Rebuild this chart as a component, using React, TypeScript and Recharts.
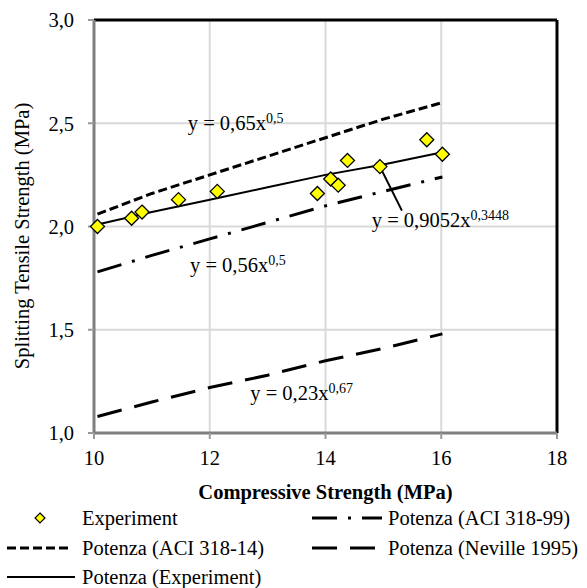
import React from 'react';
import {
  ScatterChart,
  Scatter,
  XAxis,
  YAxis,
  CartesianGrid,
  ReferenceLine,
  ReferenceDot,
} from 'recharts';

const FONT = "'Liberation Serif', 'Times New Roman', serif";

// Experiment points (compressive vs splitting tensile strength, MPa)
const expX = [10.06, 10.65, 10.83, 11.46, 12.13, 13.86, 14.09, 14.22, 14.38, 14.94, 15.75, 16.02];
const expY = [2.0, 2.04, 2.07, 2.13, 2.17, 2.16, 2.23, 2.2, 2.32, 2.29, 2.42, 2.35];

// Trend curves
const trendX = [10.06, 11, 12, 13, 14, 15, 16.02];
const aci14Y = [2.06, 2.16, 2.25, 2.34, 2.43, 2.52, 2.6];
const aci99Y = [1.78, 1.86, 1.94, 2.02, 2.1, 2.17, 2.24];
const nevilleY = [1.08, 1.15, 1.22, 1.28, 1.35, 1.41, 1.48];
const expFitY = [2.01, 2.07, 2.13, 2.19, 2.25, 2.3, 2.36];

const xTicks = [10, 12, 14, 16, 18];
const yTicks = [1, 1.5, 2, 2.5, 3];

const equationLabels = [
  { x: 11.62, y: 2.5, base: 'y = 0,65x', sup: '0,5' },
  { x: 11.66, y: 1.814, base: 'y = 0,56x', sup: '0,5' },
  { x: 12.7, y: 1.194, base: 'y = 0,23x', sup: '0,67' },
  { x: 14.8, y: 2.031, base: 'y = 0,9052x', sup: '0,3448' },
];

const DASH_14 = '9 4';
const DASH_99 = '25 11 3 11';
const DASH_NEV = '25 13';

const txtStyle = { fontFamily: FONT };

const toPoints = (xs: number[], ys: number[]) => xs.map((x, i) => ({ x, y: ys[i] }));

const Diamond = (props: any) => {
  const { cx, cy } = props;
  const r = 7;
  return (
    <polygon
      points={`${cx},${cy - r} ${cx + r},${cy} ${cx},${cy + r} ${cx - r},${cy}`}
      fill="#ffff00"
      stroke="#000"
      strokeWidth={1.3}
    />
  );
};

const NoShape = () => <g />;

const EquationText = ({ viewBox, base, sup }: any) => (
  <text x={viewBox.x} y={viewBox.y + 7} style={txtStyle} fontSize={20.5} fill="#000">
    <tspan>{base}</tspan>
    <tspan dy={-7} fontSize={14}>{sup}</tspan>
  </text>
);

const fmt = (v: number) => v.toFixed(1).replace('.', ',');

function LegendOverlay() {
  const rows = [518, 548, 577];
  const txt = { style: txtStyle, fontSize: 20.5, fill: '#000' };
  return (
    <svg width={587} height={588} style={{ position: 'absolute', left: 0, top: 0, pointerEvents: 'none' }}>
      <polygon points={`40,${rows[0] - 5} 45,${rows[0]} 40,${rows[0] + 5} 35,${rows[0]}`} fill="#ffff00" stroke="#000" strokeWidth={1.2} />
      <text x={82} y={rows[0] + 7} {...txt}>Experiment</text>
      <line x1={7} x2={68} y1={rows[1]} y2={rows[1]} stroke="#000" strokeWidth={3} strokeDasharray={DASH_14} />
      <text x={82} y={rows[1] + 7} {...txt}>Potenza (ACI 318-14)</text>
      <line x1={7} x2={75} y1={rows[2]} y2={rows[2]} stroke="#000" strokeWidth={2} />
      <text x={82} y={rows[2] + 7} {...txt}>Potenza (Experiment)</text>
      <line x1={312} x2={382} y1={rows[0]} y2={rows[0]} stroke="#000" strokeWidth={3} strokeDasharray={DASH_99} />
      <text x={388} y={rows[0] + 7} {...txt}>Potenza (ACI 318-99)</text>
      <line x1={312} x2={375} y1={rows[1]} y2={rows[1]} stroke="#000" strokeWidth={3} strokeDasharray={DASH_NEV} />
      <text x={388} y={rows[1] + 7} {...txt}>Potenza (Neville 1995)</text>
    </svg>
  );
}

export default function App() {
  const tick = { fill: '#000', fontSize: 20.5, style: txtStyle };
  return (
    <div style={{ position: 'absolute', left: 0, top: 0, width: 587, height: 588, background: '#fff', fontFamily: FONT }}>
      <ScatterChart width={587} height={588} margin={{ top: 20, right: 30, bottom: 115, left: 34 }} style={txtStyle}>
        <CartesianGrid stroke="#d9d9d9" strokeWidth={2} />
        <XAxis
          type="number"
          dataKey="x"
          domain={[10, 18]}
          ticks={xTicks}
          height={40}
          tick={tick}
          tickSize={6}
          tickMargin={11}
          tickLine={{ stroke: '#999', strokeWidth: 2 }}
          axisLine={{ stroke: '#7f7f7f', strokeWidth: 3 }}
          label={({ viewBox }: any) => (
            <text
              x={viewBox.x + viewBox.width / 2}
              y={viewBox.y + 66}
              textAnchor="middle"
              style={txtStyle}
              fontSize={20.5}
              fontWeight="bold"
              fill="#000"
            >
              Compressive Strength (MPa)
            </text>
          )}
        />
        <YAxis
          type="number"
          dataKey="y"
          domain={[1, 3]}
          ticks={yTicks}
          width={60}
          tick={tick}
          tickFormatter={fmt}
          tickSize={6}
          tickMargin={14}
          tickLine={{ stroke: '#999', strokeWidth: 2 }}
          axisLine={{ stroke: '#7f7f7f', strokeWidth: 3 }}
          label={({ viewBox }: any) => {
            const cx = viewBox.x - 12;
            const cy = viewBox.y + viewBox.height / 2 + 9.5;
            return (
              <text
                x={cx}
                y={cy}
                transform={`rotate(-90 ${cx} ${cy})`}
                textAnchor="middle"
                dominantBaseline="central"
                style={txtStyle}
                fontSize={20.5}
                fill="#000"
              >
                Splitting Tensile Strength (MPa)
              </text>
            );
          }}
        />
        <ReferenceLine y={3} stroke="#000" strokeWidth={3} />
        <ReferenceLine x={18} stroke="#000" strokeWidth={3} />

        <Scatter
          data={toPoints(trendX, aci14Y)}
          fill="#000"
          line={{ stroke: '#000', strokeWidth: 3, strokeDasharray: DASH_14 }}
          shape={NoShape}
          isAnimationActive={false}
        />
        <Scatter
          data={toPoints(trendX, aci99Y)}
          fill="#000"
          line={{ stroke: '#000', strokeWidth: 3, strokeDasharray: DASH_99 }}
          shape={NoShape}
          isAnimationActive={false}
        />
        <Scatter
          data={toPoints(trendX, nevilleY)}
          fill="#000"
          line={{ stroke: '#000', strokeWidth: 3, strokeDasharray: DASH_NEV }}
          shape={NoShape}
          isAnimationActive={false}
        />
        <Scatter
          data={toPoints(trendX, expFitY)}
          fill="#000"
          line={{ stroke: '#000', strokeWidth: 2 }}
          shape={NoShape}
          isAnimationActive={false}
        />
        <Scatter data={toPoints(expX, expY)} shape={Diamond} isAnimationActive={false} />

        <ReferenceLine
          segment={[{ x: 15.32, y: 2.077 }, { x: 14.94, y: 2.29 }]}
          stroke="#000"
          strokeWidth={2}
        />
        {equationLabels.map(l => (
          <ReferenceDot
            key={l.base}
            x={l.x}
            y={l.y}
            r={0}
            fill="none"
            stroke="none"
            label={(p: any) => <EquationText {...p} base={l.base} sup={l.sup} />}
          />
        ))}
      </ScatterChart>
      <LegendOverlay />
    </div>
  );
}
